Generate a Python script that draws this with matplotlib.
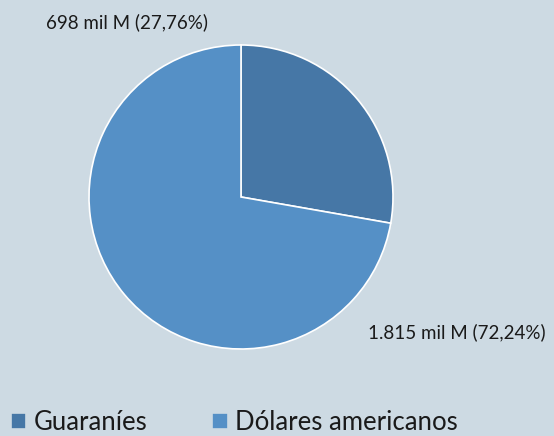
import matplotlib
matplotlib.use("Agg")
from matplotlib import pyplot as plt

labels = ["Guaraníes", "Dólares americanos"]
values = [27.76, 72.24]
value_texts = ["698 mil M (27,76%)", "1.815 mil M (72,24%)"]
colors = ["#4677a6", "#5590c6"]
bg = "#cddae3"

plt.rcParams["font.family"] = ["Lato", "DejaVu Sans"]

fig = plt.figure(figsize=(5.54, 4.36), dpi=100)
fig.patch.set_facecolor(bg)

# pie centre ~ (241, 197) px, radius ~152 px
W, H = 554, 436
cx, cy, r = 241, 197, 152
ax = fig.add_axes([(cx - r) / W, (H - cy - r) / H, 2 * r / W, 2 * r / H])
ax.set_facecolor(bg)

wedges, _ = ax.pie(values, colors=colors, startangle=90, counterclock=False,
                   radius=1, wedgeprops=dict(edgecolor="white", linewidth=1.2))
ax.set_xlim(-1, 1)
ax.set_ylim(-1, 1)
ax.set_aspect("equal")
ax.axis("off")

# data labels
ax.text(-0.75, 1.15, value_texts[0], ha="center", va="center", fontsize=13.5,
        color="#1a1a1a", clip_on=False)
ax.text(1.42, -0.89, value_texts[1], ha="center", va="center", fontsize=13.5,
        color="#1a1a1a", clip_on=False)

leg = fig.legend(wedges, labels, loc="lower left", bbox_to_anchor=(11 / W, 0.002),
                 ncol=2, frameon=False, fontsize=18.5, handlelength=0.6,
                 handleheight=0.6, handletextpad=0.3, columnspacing=2.5,
                 borderpad=0, borderaxespad=0, labelcolor="#1a1a1a")
for h in leg.legend_handles:
    h.set_edgecolor(bg)

fig.savefig("out.png", dpi=100, facecolor=bg)
